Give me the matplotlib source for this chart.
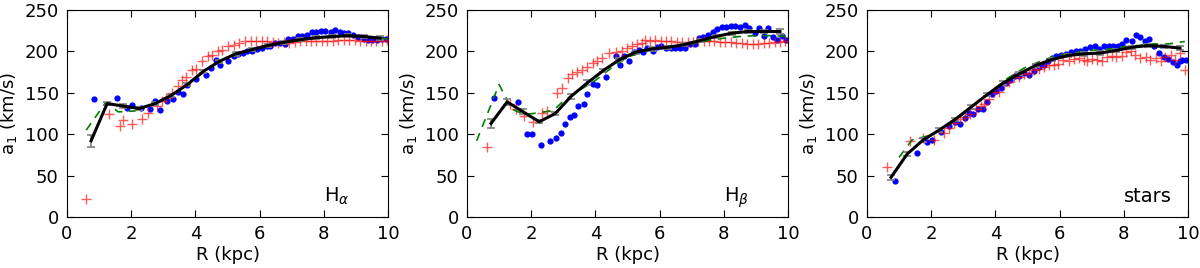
import numpy as np
import matplotlib
matplotlib.use("Agg")
import matplotlib.pyplot as plt

# ---------------- datos ----------------

# radios del modelo (linea negra con barras de error)
r_mod = np.arange(0.75, 10.0, 0.5)

# Panel H-alpha
ha_blue_x = [0.85, 1.57, 1.88, 2.03, 2.29, 2.58, 2.74, 2.9, 3.1, 3.31, 3.47, 3.61, 3.75, 4.03, 4.33, 4.5, 4.64,
             4.76, 5.0, 5.19, 5.34, 5.47, 5.6, 5.76, 5.92, 6.07, 6.23, 6.33, 6.49, 6.65, 6.78, 6.9, 7.04, 7.2,
             7.32, 7.48, 7.64, 7.77, 7.92, 8.05, 8.22, 8.36, 8.5, 8.62, 8.76, 8.9, 9.07, 9.25, 9.39, 9.5, 9.67,
             9.82, 9.95]
ha_blue_y = [142, 144, 132, 135, 132, 131, 140, 129, 140, 142, 151, 149, 160, 167, 171, 180, 190,
             184, 188, 194, 197, 198, 200, 201, 203, 204, 206, 206, 210, 210, 209, 215, 215, 218,
             218, 220, 223, 223, 225, 225, 224, 226, 224, 222, 222, 220, 217, 215, 214, 214, 214,
             215, 215]
ha_red_x = [0.6, 1.32, 1.64, 1.74, 2.04, 2.34, 2.53, 2.79, 2.95, 3.09, 3.28, 3.47, 3.59, 3.72, 3.9, 4.03, 4.22,
            4.4, 4.53, 4.69, 4.84, 5.0, 5.2, 5.37, 5.55, 5.72, 5.9, 6.07, 6.24, 6.41, 6.58, 6.75, 6.92, 7.09,
            7.26, 7.43, 7.6, 7.77, 7.94, 8.11, 8.28, 8.45, 8.62, 8.79, 8.96, 9.13, 9.3, 9.47, 9.64, 9.81, 9.98]
ha_red_y = [22, 124, 110, 117, 112, 118, 126, 134, 140, 144, 150, 158, 165, 169, 178, 179, 188,
            195, 196, 201, 202, 206, 208, 210, 213, 213, 212, 213, 212, 211, 210, 211, 210, 211,
            212, 212, 213, 212, 213, 213, 213, 214, 214, 214, 214, 213, 212, 212, 212, 213, 214]
ha_mod = [92, 137, 134, 131, 137, 147, 160, 176, 188, 197, 202, 207, 211, 214, 216.5, 218, 219, 218, 216]
ha_err = [7, 2, 2, 2, 2, 2, 2, 2, 2, 2, 2, 2, 2, 2, 2, 2, 2, 2, 2]
ha_green_x = [0.6, 1.2, 1.6, 2.1, 2.6, 3.0, 3.5, 4.0, 4.5, 5.0, 5.5, 6.0, 6.5, 7.0, 7.5, 8.0, 8.5, 9.0, 9.5, 10.0]
ha_green_y = [105, 138, 127, 128, 135, 141, 153, 167, 182, 193, 200, 204, 208, 212, 215, 217, 218, 218, 217, 215]

# Panel H-beta
hb_blue_x = [0.85, 1.58, 1.88, 2.03, 2.31, 2.6, 2.76, 2.92, 3.04, 3.21, 3.33, 3.47, 3.63, 3.75, 3.94, 4.05, 4.34,
             4.64, 4.78, 4.9, 5.06, 5.2, 5.35, 5.47, 5.62, 5.78, 5.92, 6.05, 6.21, 6.35, 6.49, 6.65, 6.8, 6.96,
             7.1, 7.22, 7.35, 7.51, 7.66, 7.8, 7.93, 8.07, 8.22, 8.36, 8.52, 8.65, 8.8, 8.96, 9.09, 9.25, 9.39,
             9.53, 9.67, 9.8, 9.95]
hb_blue_y = [144, 139, 100, 100, 87, 92, 95, 101, 112, 121, 123, 134, 137, 148, 161, 160, 169,
             195, 184, 195, 188, 199, 202, 199, 204, 201, 205, 206, 204, 204, 204, 204, 204, 209,
             209, 216, 217, 220, 224, 227, 229, 230, 231, 231, 229, 232, 228, 222, 228, 218, 228,
             217, 214, 219, 214]
hb_red_x = [0.62, 1.35, 1.54, 1.77, 2.06, 2.34, 2.5, 2.79, 2.97, 3.16, 3.28, 3.44, 3.59, 3.75, 3.93, 4.06, 4.22,
            4.43, 4.64, 4.82, 4.98, 5.13, 5.3, 5.45, 5.55, 5.71, 5.86, 6.05, 6.21, 6.36, 6.54, 6.7, 6.87, 7.03,
            7.2, 7.37, 7.54, 7.71, 7.88, 8.05, 8.22, 8.39, 8.56, 8.73, 8.9, 9.07, 9.24, 9.41, 9.58, 9.75, 9.92]
hb_red_y = [84, 136, 131, 122, 115, 125, 128, 150, 156, 168, 173, 175, 178, 181, 186, 188, 192,
            198, 199, 200, 204, 207, 209, 210, 214, 212, 214, 213, 213, 213, 211, 211, 211, 211,
            212, 213, 213, 212, 211, 211, 211, 210, 210, 209, 209, 209, 210, 210, 211, 211, 212]
hb_mod = [113, 139, 127, 115, 125, 146, 162, 177, 190, 199, 203, 205, 208, 213, 218, 222, 224, 224, 224]
hb_err = [5, 4, 3, 2, 2, 3, 3, 2, 2, 2, 2, 2, 2, 2, 2, 2, 2, 2, 3]
hb_green_x = [0.3, 1.0, 1.4, 1.8, 2.3, 2.7, 3.0, 3.5, 4.0, 4.5, 5.0, 5.5, 6.0, 6.5, 7.0, 7.5, 8.0, 8.5, 9.0, 9.5, 10.0]
hb_green_y = [92, 160, 130, 124, 126, 129, 140, 153, 165, 180, 193, 200, 204, 206, 209, 213, 216, 218, 219, 219, 218]

# Panel estrellas
st_blue_x = [0.86, 1.57, 1.88, 2.03, 2.3, 2.57, 2.74, 2.9, 3.04, 3.18, 3.31, 3.46, 3.62, 3.74, 3.9, 4.03, 4.18,
             4.32, 4.47, 4.6, 4.75, 4.9, 5.05, 5.2, 5.36, 5.5, 5.64, 5.76, 5.9, 6.05, 6.2, 6.35, 6.5, 6.65,
             6.8, 6.94, 7.1, 7.24, 7.38, 7.53, 7.67, 7.81, 7.95, 8.08, 8.24, 8.39, 8.52, 8.67, 8.8, 8.95,
             9.1, 9.25, 9.39, 9.53, 9.67, 9.75, 9.82, 9.95]
st_blue_y = [44, 77, 90, 93, 103, 110, 115, 112, 120, 126, 124, 131, 131, 139, 148, 152, 156,
             162, 165, 170, 170, 174, 171, 176, 181, 184, 188, 192, 194, 196, 197, 199, 200, 200,
             203, 205, 206, 203, 207, 206, 206, 207, 209, 214, 212, 220, 217, 212, 215, 207,
             198, 193, 191, 187, 184, 189, 190, 190]
st_red_x = [0.62, 1.35, 1.74, 2.08, 2.4, 2.55, 2.72, 2.9, 3.05, 3.2, 3.41, 3.55, 3.66, 3.8, 3.97, 4.12, 4.27,
            4.43, 4.58, 4.73, 4.89, 5.04, 5.19, 5.35, 5.5, 5.66, 5.81, 5.95, 6.12, 6.28, 6.44, 6.6, 6.75,
            6.85, 7.0, 7.16, 7.32, 7.48, 7.64, 7.77, 7.95, 8.08, 8.23, 8.36, 8.52, 8.68, 8.83, 8.99, 9.15,
            9.28, 9.46, 9.61, 9.74, 9.9]
st_red_y = [60, 92, 95, 93, 101, 107, 113, 118, 121, 124, 131, 134, 137, 143, 151, 151, 159,
            163, 169, 169, 173, 174, 177, 179, 181, 183, 183, 185, 190, 189, 191, 192, 190,
            188, 191, 190, 188, 193, 195, 193, 195, 199, 201, 196, 192, 193, 190, 192, 188,
            193, 196, 190, 198, 178]
st_mod = [48, 76, 93, 105, 118, 133, 148, 162, 173, 183, 190, 195, 197, 198, 201, 205, 207, 206, 204]
st_err = [3, 2, 2, 2, 2, 2, 2, 2, 2, 2, 2, 2, 2, 2, 2, 2, 2, 2, 2]
st_green_x = [1.0, 1.4, 1.9, 2.4, 2.9, 3.4, 3.9, 4.4, 4.9, 5.4, 5.9, 6.4, 6.9, 7.4, 7.9, 8.4, 8.9, 9.4, 9.9]
st_green_y = [72, 93, 98, 108, 121, 137, 153, 168, 180, 188, 195, 198, 201, 202, 205, 207, 209, 209, 212]

paneles = [
    (ha_blue_x, ha_blue_y, ha_red_x, ha_red_y, ha_mod, ha_err, ha_green_x, ha_green_y, r'H$_\alpha$'),
    (hb_blue_x, hb_blue_y, hb_red_x, hb_red_y, hb_mod, hb_err, hb_green_x, hb_green_y, r'H$_\beta$'),
    (st_blue_x, st_blue_y, st_red_x, st_red_y, st_mod, st_err, st_green_x, st_green_y, 'stars'),
]

# ---------------- figura ----------------
plt.rcParams['font.family'] = 'DejaVu Sans'
plt.rcParams['mathtext.fontset'] = 'dejavusans'

fig = plt.figure(figsize=(12, 2.68), dpi=100)

for i, (bx, by, rx, ry, mod, err, gx, gy, etiqueta) in enumerate(paneles):
    ax = fig.add_axes([(67 + 400 * i) / 1200, 51 / 268, 321 / 1200, 207 / 268])

    ax.plot(bx, by, 'o', color='blue', ms=4.5, mew=0, zorder=2)
    ax.plot(rx, ry, '+', color='red', ms=7, mew=1.0, alpha=0.65, zorder=3)
    ax.plot(gx, gy, color='green', lw=1.2, dashes=(5, 4), zorder=4)
    ax.errorbar(r_mod, mod, yerr=err, fmt='none', ecolor='grey', elinewidth=1.2,
                capsize=3, capthick=1.2, zorder=5)
    ax.plot(r_mod, mod, color='black', lw=2.2, zorder=6)

    ax.text(8.0, 18, etiqueta, fontsize=14)

    ax.set_xlim(0, 10)
    ax.set_ylim(0, 250)
    ax.set_xticks([0, 2, 4, 6, 8, 10])
    ax.set_yticks([0, 50, 100, 150, 200, 250])
    ax.tick_params(direction='in', top=True, right=True, length=5, labelsize=13, pad=6)
    ax.set_xlabel('R (kpc)', fontsize=13, labelpad=2)
    ax.set_ylabel(r'a$_1$ (km/s)', fontsize=13, labelpad=4)

fig.savefig('out.png', dpi=100)
